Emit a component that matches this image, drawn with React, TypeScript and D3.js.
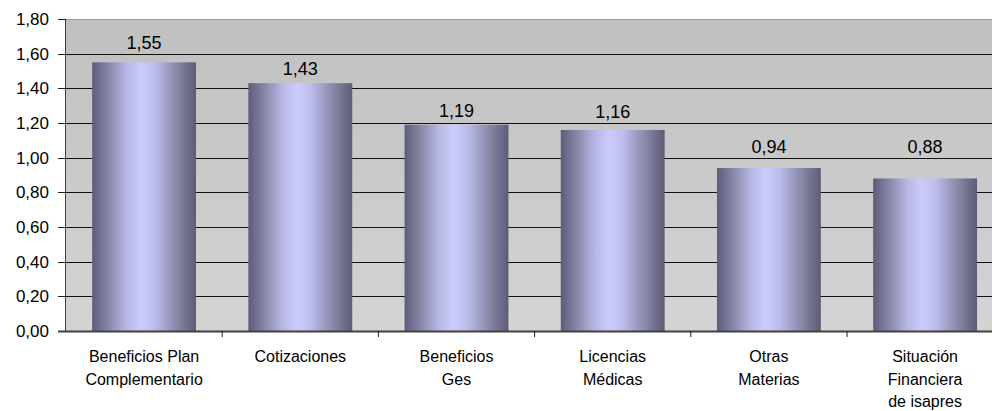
import React from "react";
import * as d3 from "d3";

// Category labels, one entry per bar, split into lines
const categories: string[][] = [
  ["Beneficios Plan", "Complementario"],
  ["Cotizaciones"],
  ["Beneficios", "Ges"],
  ["Licencias", "Médicas"],
  ["Otras", "Materias"],
  ["Situación", "Financiera", "de isapres"],
];

const values: number[] = [1.55, 1.43, 1.19, 1.16, 0.94, 0.88];

const yTicks: number[] = [0, 0.2, 0.4, 0.6, 0.8, 1.0, 1.2, 1.4, 1.6, 1.8];

const W = 992;
const H = 411;
const FONT = "'Liberation Sans', Arial, Helvetica, sans-serif";

const esLocale = d3.formatLocale({
  decimal: ",",
  thousands: ".",
  grouping: [3],
  currency: ["$", ""],
});
const fmt = esLocale.format(".2f");

export default function App() {
  const left = 66;
  const top = 19;
  const bottom = 331;
  const step = 156.2;
  const right = left + step * categories.length;

  const x = d3
    .scaleBand<number>()
    .domain(d3.range(categories.length))
    .range([left, right])
    .paddingInner(0.335)
    .paddingOuter(0.1675);

  const y = d3.scaleLinear().domain([0, 1.8]).range([bottom, top]);

  const gridYs = yTicks.filter((t) => t > 0 && t < 1.8).map((t) => y(t));

  // Place a value label just above its bar; if a gridline would cut through
  // the text, set it just above that gridline instead.
  const labelBaseline = (v: number) => {
    let base = y(v) - 8;
    const hit = gridYs.find((g) => g > base - 13 && g < base + 3);
    if (hit !== undefined) base = hit - 5;
    return base;
  };

  return (
    <div style={{ position: "absolute", left: 0, top: 0, width: W, height: H, background: "#fff" }}>
      <svg width={W} height={H} style={{ display: "block" }} fontFamily={FONT}>
        <defs>
          <linearGradient id="plotBg" x1="0" y1="0" x2="0" y2="1">
            <stop offset="0%" stopColor="#c0c0c0" />
            <stop offset="100%" stopColor="#d4d4d4" />
          </linearGradient>
          <linearGradient id="barFill" x1="0" y1="0" x2="1" y2="0">
            <stop offset="0%" stopColor="#5d5d7a" />
            <stop offset="15%" stopColor="#8585a6" />
            <stop offset="33%" stopColor="#b8b8e6" />
            <stop offset="47%" stopColor="#cbcbfd" />
            <stop offset="60%" stopColor="#bdbdee" />
            <stop offset="80%" stopColor="#8b8bac" />
            <stop offset="100%" stopColor="#5c5c76" />
          </linearGradient>
        </defs>

        {/* plot area */}
        <rect x={left} y={top} width={right - left} height={bottom - top} fill="url(#plotBg)" />
        <line x1={left} x2={right} y1={top + 0.5} y2={top + 0.5} stroke="#9a9a9a" strokeWidth={1} />

        {/* gridlines */}
        {yTicks
          .filter((t) => t > 0 && t < 1.8)
          .map((t) => (
            <line
              key={t}
              x1={left}
              x2={right}
              y1={Math.round(y(t)) + 0.5}
              y2={Math.round(y(t)) + 0.5}
              stroke="#111"
              strokeWidth={1}
            />
          ))}

        {/* bars */}
        {values.map((v, i) => (
          <rect
            key={i}
            x={x(i)}
            y={y(v)}
            width={x.bandwidth()}
            height={bottom - y(v)}
            fill="url(#barFill)"
          />
        ))}

        {/* value labels */}
        {values.map((v, i) => (
          <text
            key={i}
            x={(x(i) as number) + x.bandwidth() / 2}
            y={labelBaseline(v)}
            textAnchor="middle"
            fontSize={18}
            fill="#000"
          >
            {fmt(v)}
          </text>
        ))}

        {/* y axis */}
        <line x1={left - 0.5} x2={left - 0.5} y1={top} y2={bottom} stroke="#404040" strokeWidth={1} />
        {yTicks.map((t) => (
          <g key={t}>
            <line
              x1={left - 8}
              x2={left}
              y1={Math.round(y(t)) + 0.5}
              y2={Math.round(y(t)) + 0.5}
              stroke="#202020"
              strokeWidth={1}
            />
            <text x={49} y={y(t)} dy="0.36em" textAnchor="end" fontSize={17} fill="#000">
              {fmt(t)}
            </text>
          </g>
        ))}

        {/* x axis */}
        <line x1={left - 8} x2={right} y1={bottom + 0.5} y2={bottom + 0.5} stroke="#404040" strokeWidth={2} />
        {d3.range(1, categories.length).map((i) => (
          <line
            key={i}
            x1={left + step * i}
            x2={left + step * i}
            y1={bottom}
            y2={bottom + 6}
            stroke="#202020"
            strokeWidth={1}
          />
        ))}
        {categories.map((lines, i) => (
          <text
            key={i}
            x={(x(i) as number) + x.bandwidth() / 2}
            y={362}
            textAnchor="middle"
            fontSize={16}
            fill="#000"
          >
            {lines.map((ln, k) => (
              <tspan key={k} x={(x(i) as number) + x.bandwidth() / 2} dy={k === 0 ? 0 : 22.5}>
                {ln}
              </tspan>
            ))}
          </text>
        ))}
      </svg>
    </div>
  );
}
